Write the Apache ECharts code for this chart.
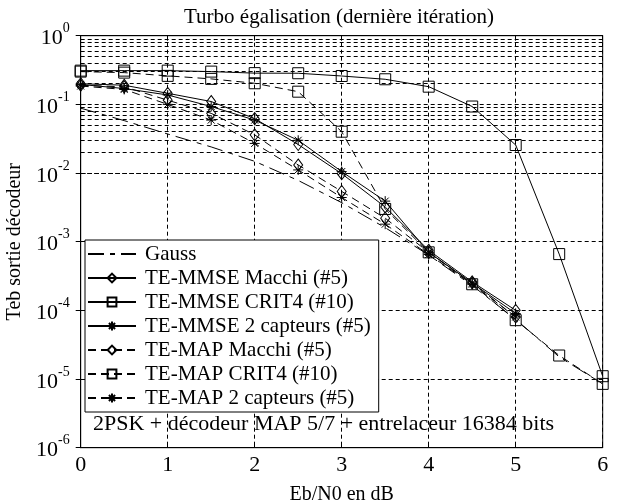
<!DOCTYPE html>
<html>
<head>
<meta charset="utf-8">
<script src="https://cdn.jsdelivr.net/npm/echarts@6/dist/echarts.min.js"></script>
<style>html,body{margin:0;padding:0;background:#fff}#c{width:625px;height:503px}</style>
</head>
<body>
<div id="c"></div>
<script>
const xVals = [0, 0.5, 1, 1.5, 2, 2.5, 3, 3.5, 4, 4.5, 5, 5.5, 6];
const gauss = [0.088, 0.058, 0.037, 0.024, 0.0148, 0.0078, 0.0037, 0.0016, 6.4e-4, 2.3e-4, 7.4e-5, 2.1e-5, 8.5e-6];
const mmseMacchi = [0.20, 0.19, 0.145, 0.11, 0.062, 0.026, 0.0098, 0.0032, 7.5e-4, 2.6e-4, 1.0e-4];
const mmseCrit4 = [0.31, 0.31, 0.31, 0.30, 0.285, 0.284, 0.259, 0.232, 0.181, 0.093, 0.0256, 6.6e-4, 1.1e-5];
const mmse2cap = [0.195, 0.17, 0.137, 0.093, 0.059, 0.030, 0.0105, 0.0039, 7.0e-4, 2.5e-4, 9.0e-5];
const mapMacchi = [0.19, 0.18, 0.115, 0.074, 0.036, 0.0131, 0.0054, 0.0022, 7.0e-4, 2.5e-4, 8.0e-5];
const mapCrit4 = [0.30, 0.29, 0.26, 0.235, 0.203, 0.153, 0.040, 0.0030, 7.0e-4, 2.4e-4, 7.2e-5, 2.2e-5, 8.5e-6];
const map2cap = [0.185, 0.165, 0.10, 0.059, 0.027, 0.0111, 0.0044, 0.0018, 6.5e-4, 2.4e-4, 8.0e-5];
const seriesNames = ['Gauss', 'TE-MMSE Macchi (#5)', 'TE-MMSE CRIT4 (#10)', 'TE-MMSE 2 capteurs (#5)',
  'TE-MAP Macchi (#5)', 'TE-MAP CRIT4 (#10)', 'TE-MAP 2 capteurs (#5)'];
const titleText = 'Turbo égalisation (dernière itération)';
const xName = 'Eb/N0 en dB';
const yName = 'Teb sortie décodeur';
const noteText = '2PSK + décodeur MAP 5/7 + entrelaceur 16384 bits';
const xTicks = [0, 1, 2, 3, 4, 5, 6];
const decades = [-6, -5, -4, -3, -2, -1, 0];
const minorMults = [2, 3, 4, 5, 6, 7, 8, 9];

const FONT = '"Liberation Serif", "Times New Roman", serif';
const ASTER = 'path://M0,-10L0,10M-10,0L10,0M-7,-7L7,7M-7,7L7,-7';

function pts(arr) { return arr.map((v, i) => [xVals[i], v]); }

const minorVals = [];
decades.slice(0, -1).forEach(d => minorMults.forEach(m => minorVals.push(m * Math.pow(10, d))));

const solid = { color: '#000', width: 1, type: 'solid' };
const dashed = { color: '#000', width: 1, type: [8, 5] };

function mk(name, data, line, symbol, size, hidden) {
  return {
    name: name, type: 'line', data: pts(data), lineStyle: line,
    symbol: symbol, symbolSize: size, showAllSymbol: true, showSymbol: !hidden,
    animation: false,
    itemStyle: hidden
      ? { color: 'rgba(255,255,255,0)', borderColor: 'rgba(0,0,0,0)', borderWidth: 0 }
      : { color: symbol === ASTER ? '#000' : 'rgba(255,255,255,0)', borderColor: '#000', borderWidth: 1 },
    emphasis: { disabled: true }, z: 3
  };
}

const series = [
  mk(seriesNames[0], gauss, { color: '#000', width: 1, type: [16, 6, 5, 6] }, 'rect', 1, true),
  mk(seriesNames[1], mmseMacchi, solid, 'diamond', [9, 12]),
  mk(seriesNames[2], mmseCrit4, solid, 'rect', 11),
  mk(seriesNames[3], mmse2cap, solid, ASTER, 10),
  mk(seriesNames[4], mapMacchi, dashed, 'diamond', [9, 12]),
  mk(seriesNames[5], mapCrit4, dashed, 'rect', 11),
  mk(seriesNames[6], map2cap, dashed, ASTER, 10),
  {
    type: 'line', data: [], silent: true, animation: false, z: 1,
    markLine: {
      silent: true, symbol: ['none', 'none'], animation: false,
      label: { show: false },
      lineStyle: { color: '#000', width: 1, type: [4, 3] },
      data: minorVals.map(v => ({ yAxis: v }))
    }
  }
];

const chart = echarts.init(document.getElementById('c'), null, { renderer: 'canvas' });
chart.setOption({
  backgroundColor: '#fff',
  animation: false,
  title: {
    text: titleText, left: 334, top: 2, textAlign: 'center',
    textStyle: { fontFamily: FONT, fontSize: 21, fontWeight: 'normal', color: '#000' }
  },
  grid: { left: 80.7, right: 22.3, top: 35.7, bottom: 55.3, show: true, borderColor: '#000', borderWidth: 1,
    backgroundColor: 'transparent', containLabel: false, outerBoundsMode: 'none' },
  legend: {
    data: seriesNames, orient: 'vertical', left: 85, top: 240,
    backgroundColor: '#fff', borderColor: '#000', borderWidth: 1,
    padding: [3, 8, 3, 2], itemWidth: 48, itemHeight: 11, itemGap: 2,
    selectedMode: false,
    textStyle: { fontFamily: FONT, fontSize: 21, color: '#000', lineHeight: 22, padding: [0, 0, 0, 4] }
  },
  xAxis: [{
    type: 'value', min: 0, max: 6, interval: 1,
    name: xName, nameLocation: 'middle', nameGap: 37,
    nameTextStyle: { fontFamily: FONT, fontSize: 20, color: '#000' },
    axisLine: { lineStyle: { color: '#000' } },
    axisTick: { inside: true, length: 5, lineStyle: { color: '#000' } },
    axisLabel: { fontFamily: FONT, fontSize: 22, color: '#000', margin: 7,
      formatter: v => xTicks.indexOf(v) >= 0 ? String(v) : '' },
    splitLine: { show: true, lineStyle: { color: '#000', width: 1, type: [4, 3] } }
  }, {
    type: 'value', min: 0, max: 6, interval: 1, position: 'top',
    axisLine: { lineStyle: { color: '#000' } },
    axisTick: { inside: true, length: 5, lineStyle: { color: '#000' } },
    axisLabel: { show: false }, splitLine: { show: false }
  }],
  yAxis: [{
    type: 'log', logBase: 10, min: 1e-6, max: 1,
    name: yName, nameLocation: 'middle', nameGap: 54, nameRotate: 90,
    nameTextStyle: { fontFamily: FONT, fontSize: 20, color: '#000' },
    axisLine: { lineStyle: { color: '#000' } },
    axisTick: { inside: true, length: 5, lineStyle: { color: '#000' } },
    axisLabel: {
      margin: 11, color: '#000',
      formatter: v => '{b|10}{s|' + Math.round(Math.log10(v)) + '}',
      rich: {
        b: { fontFamily: FONT, fontSize: 22, color: '#000', lineHeight: 28, verticalAlign: 'bottom' },
        s: { fontFamily: FONT, fontSize: 14, color: '#000', lineHeight: 14, verticalAlign: 'top' }
      }
    },
    splitLine: { show: true, lineStyle: { color: '#000', width: 1, type: [4, 3] } }
  }, {
    type: 'log', logBase: 10, min: 1e-6, max: 1, position: 'right',
    axisLine: { lineStyle: { color: '#000' } },
    axisTick: { inside: true, length: 5, lineStyle: { color: '#000' } },
    axisLabel: { show: false }, splitLine: { show: false }
  }],
  series: series,
  graphic: [{
    type: 'text', left: 93, top: 413, z: 10,
    style: { text: noteText, font: '22px ' + FONT, fill: '#000' }
  }]
});
</script>
</body>
</html>
